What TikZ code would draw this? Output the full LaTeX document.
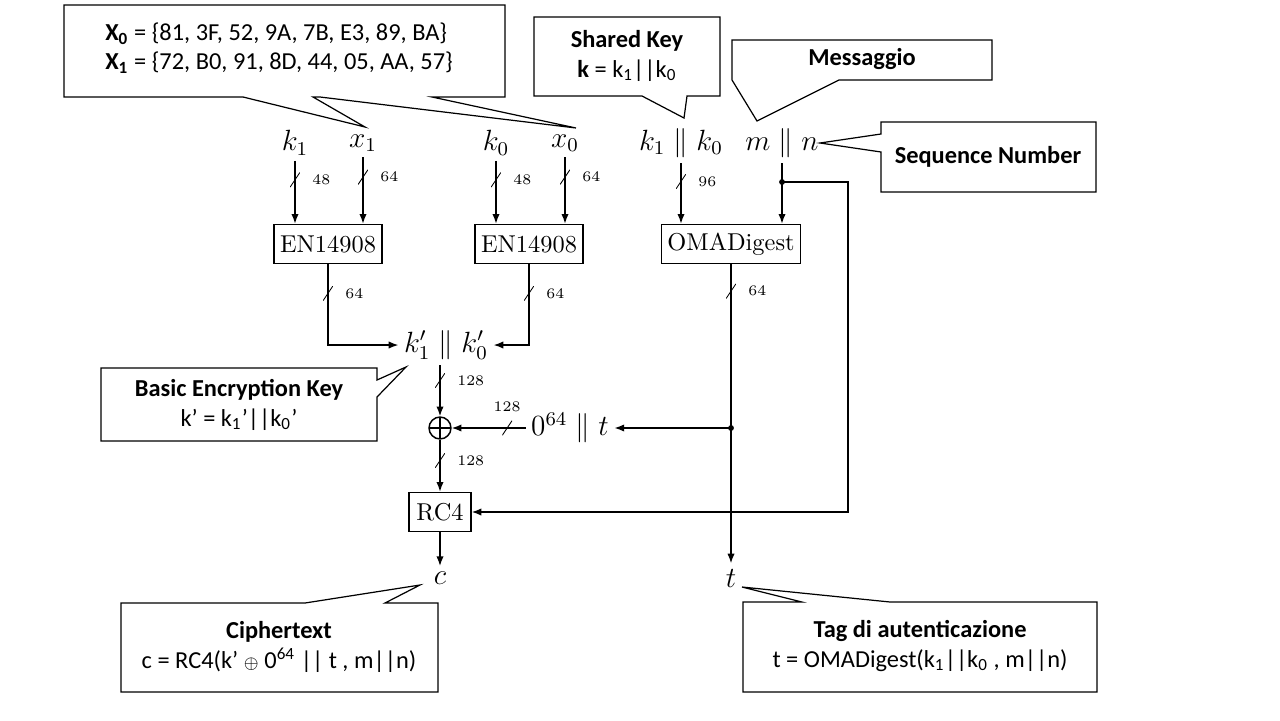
\documentclass[tikz,border=0pt]{standalone}
\usepackage{fontspec}
\newfontfamily\notefont{Carlito}
\usetikzlibrary{arrows.meta}

\tikzset{
  lab/.style={font=\large, inner sep=2pt},
  blk/.style={draw, semithick, minimum height=16pt, inner xsep=2.5pt},
  bus/.style={inner sep=0pt, minimum width=4pt, minimum height=6pt,
    path picture={\draw[-, line width=0.35pt] (path picture bounding box.south west) -- (path picture bounding box.north east);},
    label={[font=\fontsize{6}{7}\selectfont, inner sep=0pt, label distance=4.5pt]right:#1}},
  hbus/.style={inner sep=0pt, minimum width=4pt, minimum height=6pt,
    path picture={\draw[-, line width=0.35pt] (path picture bounding box.south west) -- (path picture bounding box.north east);},
    label={[font=\fontsize{6}{7}\selectfont, inner sep=0pt, label distance=3pt]above:#1}},
  callout/.style={draw, line width=0.5pt, fill=white},
  note/.style={font=\notefont\fontsize{10}{12}\selectfont, align=center, inner sep=0pt},
}

\begin{document}
\begin{tikzpicture}[x=0.41pt, y=-0.41pt, >={Latex[length=4pt,width=3pt]}, semithick]
  \useasboundingbox (0,0) rectangle (1280,720);

  % inputs
  \node[lab] (k1) at (295,143) {$k_1$};
  \node[lab] (x1) at (363,143) {$x_1$};
  \node[lab] (k0) at (496,143) {$k_0$};
  \node[lab] (x0) at (565,143) {$x_0$};
  \node[lab] (kk) at (681,143) {$k_1 \parallel k_0$};
  \node[lab] (mn) at (782,143) {$m \parallel n$};

  % blocks
  \node[blk] (enA) at (328,244) {EN14908};
  \node[blk] (enB) at (529,244) {EN14908};
  \node[blk] (oma) at (731,244) {OMADigest};
  \node[lab] (kp) at (446,345) {$k_1' \parallel k_0'$};
  \node[draw, circle, minimum size=9pt, inner sep=0pt,
    path picture={\draw (path picture bounding box.north) -- (path picture bounding box.south)
      (path picture bounding box.west) -- (path picture bounding box.east);}] (xor) at (440,428) {};
  \node[lab] (zt) at (570,428) {$0^{64} \parallel t$};
  \node[blk, inner xsep=3pt] (rc4) at (440,512) {RC4};
  \node[lab] (c) at (440,578) {$c$};
  \node[lab] (t) at (731,578) {$t$};

  \coordinate (mdot) at (mn |- 0,182);
  \coordinate (mrt) at (848,182);
  \coordinate (tdot) at (oma |- xor);

  % inputs to blocks
  \draw[->] (k1) -- node[bus=48, pos=.3] {} (k1 |- enA.north);
  \draw[->] (x1) -- node[bus=64, pos=.3] {} (x1 |- enA.north);
  \draw[->] (k0) -- node[bus=48, pos=.3] {} (k0 |- enB.north);
  \draw[->] (x0) -- node[bus=64, pos=.3] {} (x0 |- enB.north);
  \draw[->] (kk) -- node[bus=96, pos=.3] {} (kk |- oma.north);
  \draw[->] (mn) -- (mn |- oma.north);
  \fill (mdot) circle (1.2pt);
  \draw[->] (mdot) -- (mrt) |- (rc4.east);

  % key derivation
  \draw[->] (enA) |- node[bus=64, pos=.18] {} (kp.west);
  \draw[->] (enB) |- node[bus=64, pos=.18] {} (kp.east);
  \draw[->] (xor |- kp.south) -- node[bus=128, pos=.3] {} (xor);
  \draw[->] (zt) -- node[hbus=128, pos=.25] {} (xor);
  \draw[->] (xor) -- node[bus=128, pos=.4] {} (rc4);
  \draw[->] (rc4) -- (c);

  % tag
  \draw[->] (oma) -- node[bus=64, pos=.09] {} (t);
  \fill (tdot) circle (1.2pt);
  \draw[->] (tdot) -- (zt);

  % callouts
  \draw[callout] (64,5) -- (505,5) -- (505,97) -- (432,97) -- (576,128) -- (320,97) -- (313,97)
    -- (365,127) -- (243,97) -- (64,97) -- cycle;
  \node[note, align=left] (xnote) at (279,48)
    {\textbf{X\textsubscript{0}} = \{81, 3F, 52, 9A, 7B, E3, 89, BA\}\\
     \textbf{X\textsubscript{1}} = \{72, B0, 91, 8D, 44, 05, AA, 57\}};

  \draw[callout] (534,17) -- (720,17) -- (720,96) -- (687,96) -- (684,118) -- (642,96)
    -- (534,96) -- cycle;
  \node[note] (knote) at (627,56) {\textbf{Shared Key}\\ \textbf{k} = k\textsubscript{1}||k\textsubscript{0}};

  \draw[callout] (732,40) -- (992,40) -- (992,80) -- (839,80) -- (757,121) -- (732,80) -- cycle;
  \node[note] (mnote) at (862,59) {\textbf{Messaggio}};

  \draw[callout] (881,122) -- (1096,122) -- (1096,192) -- (881,192) -- (881,152) -- (820,143)
    -- (881,134) -- cycle;
  \node[note] (snote) at (988,157) {\textbf{Sequence Number}};

  \draw[callout] (101,368) -- (377,368) -- (377,380) -- (406,367) -- (377,397) -- (377,441)
    -- (101,441) -- cycle;
  \node[note] (bnote) at (239,405) {\textbf{Basic Encryption Key}\\ k’ = k\textsubscript{1}’||k\textsubscript{0}’};

  \draw[callout] (121,603) -- (305,603) -- (420,585) -- (385,603) -- (438,603) -- (438,692)
    -- (121,692) -- cycle;
  \node[note] (cnote) at (279,647) {\textbf{Ciphertext}\\ c = RC4(k’ {\scriptsize$\oplus$} 0\textsuperscript{64} || t , m||n)};

  \draw[callout] (743,602) -- (802,602) -- (742,587) -- (890,602) -- (1097,602) -- (1097,692)
    -- (743,692) -- cycle;
  \node[note] (tnote) at (920,646) {\textbf{Tag di autenticazione}\\ t = OMADigest(k\textsubscript{1}||k\textsubscript{0} , m||n)};
\end{tikzpicture}
\end{document}
